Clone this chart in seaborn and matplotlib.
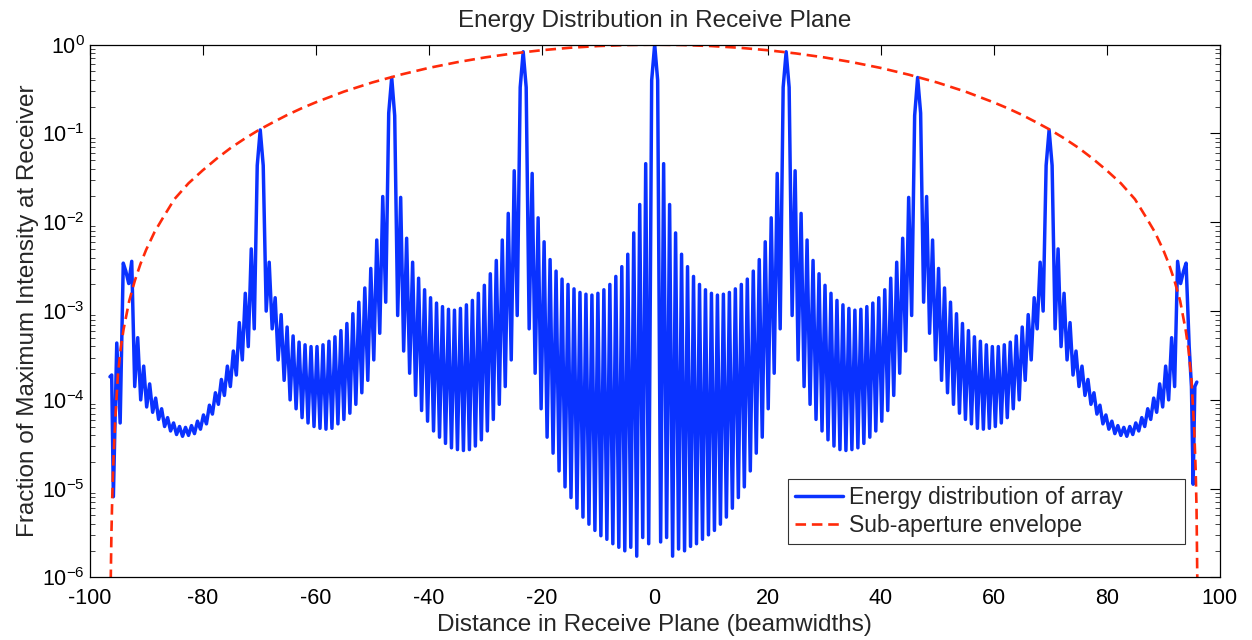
import numpy as np
import pandas as pd
import seaborn as sns
import matplotlib
matplotlib.use("Agg")
import matplotlib.pyplot as plt
from matplotlib.ticker import NullFormatter, FixedLocator

# grating lobe centres (beamwidths) and their peak levels (log10)
lobe_x = [-93.08, -69.81, -46.54, -23.27, 0.0, 23.27, 46.54, 69.81, 93.08]
lobe_exp = [-2.69, -0.96, -0.37, -0.08, 0.0, -0.08, -0.37, -0.96, -2.69]

# sidelobe crests (log10) between neighbouring lobes, left to right
crest_g1 = [-2.44, -3.30, -3.62, -3.82, -3.98, -4.10, -4.20, -4.26, -4.30, -4.31, -4.29,
            -4.24, -4.17, -4.06, -3.92, -3.77, -3.62, -3.45, -3.13, -2.80, -2.30, -1.36]
crest_g2 = [-1.36, -2.45, -2.85, -3.04, -3.18, -3.28, -3.35, -3.38, -3.40, -3.40, -3.38,
            -3.34, -3.29, -3.22, -3.14, -3.03, -2.90, -2.74, -2.52, -2.20, -1.71, -0.77]
crest_g3 = [-0.80, -1.72, -2.18, -2.45, -2.63, -2.76, -2.85, -2.91, -2.95, -2.98, -2.99,
            -2.97, -2.93, -2.88, -2.80, -2.71, -2.58, -2.43, -2.20, -1.90, -1.42, -0.48]
crest_g4 = [-0.48, -1.45, -1.95, -2.22, -2.42, -2.55, -2.64, -2.70, -2.75, -2.79, -2.81,
            -2.82, -2.80, -2.76, -2.70, -2.61, -2.50, -2.36, -2.12, -1.80, -1.34, -0.40]
crest_g5 = [-0.40, -1.34, -1.80, -2.12, -2.36, -2.50, -2.61, -2.70, -2.76, -2.80, -2.82,
            -2.81, -2.79, -2.75, -2.70, -2.64, -2.55, -2.42, -2.22, -1.95, -1.45, -0.48]
crest_g6 = [-0.48, -1.42, -1.90, -2.20, -2.43, -2.58, -2.71, -2.80, -2.88, -2.93, -2.97,
            -2.99, -2.98, -2.95, -2.91, -2.85, -2.76, -2.63, -2.45, -2.18, -1.72, -0.80]
crest_g7 = [-0.77, -1.71, -2.20, -2.52, -2.74, -2.90, -3.03, -3.14, -3.22, -3.29, -3.34,
            -3.38, -3.40, -3.40, -3.38, -3.35, -3.28, -3.18, -3.04, -2.85, -2.45, -1.36]
crest_g8 = [-1.36, -2.30, -2.80, -3.13, -3.45, -3.62, -3.77, -3.92, -4.06, -4.17, -4.24,
            -4.29, -4.31, -4.30, -4.26, -4.20, -4.10, -3.98, -3.82, -3.62, -3.30, -2.44]

# sampled nulls (log10) between neighbouring lobes, left to right
trough_g1 = [-3.85, -4.00, -4.08, -4.14, -4.22, -4.30, -4.35, -4.39, -4.41, -4.40, -4.38,
             -4.33, -4.27, -4.16, -4.05, -3.95, -3.85, -3.72, -3.55, -3.40, -3.20]
trough_g2 = [-3.00, -3.20, -3.55, -3.78, -4.00, -4.10, -4.20, -4.26, -4.30, -4.32, -4.33,
             -4.32, -4.27, -4.22, -4.15, -4.05, -3.92, -3.78, -3.55, -3.25, -2.90]
trough_g3 = [-3.05, -3.45, -3.70, -3.95, -4.12, -4.24, -4.35, -4.42, -4.49, -4.54, -4.56,
             -4.57, -4.56, -4.52, -4.45, -4.35, -4.22, -4.05, -3.85, -3.55, -3.05]
trough_g4 = [-3.20, -3.70, -4.10, -4.42, -4.60, -4.80, -4.98, -5.10, -5.22, -5.32, -5.40,
             -5.47, -5.53, -5.57, -5.62, -5.66, -5.70, -5.66, -5.76, -5.55, -5.62]
trough_g5 = [-5.60, -5.55, -5.76, -5.68, -5.70, -5.65, -5.62, -5.57, -5.52, -5.47, -5.40,
             -5.32, -5.22, -5.10, -4.98, -4.80, -4.60, -4.42, -4.10, -3.70, -3.20]
trough_g6 = [-3.05, -3.55, -3.85, -4.05, -4.22, -4.35, -4.45, -4.52, -4.56, -4.57, -4.56,
             -4.54, -4.49, -4.42, -4.35, -4.24, -4.12, -3.95, -3.70, -3.45, -3.05]
trough_g7 = [-2.90, -3.25, -3.55, -3.78, -3.92, -4.05, -4.15, -4.22, -4.27, -4.32, -4.33,
             -4.32, -4.30, -4.26, -4.20, -4.10, -4.00, -3.78, -3.55, -3.20, -3.00]
trough_g8 = [-3.20, -3.40, -3.55, -3.72, -3.85, -3.95, -4.05, -4.16, -4.27, -4.33, -4.38,
             -4.40, -4.41, -4.39, -4.35, -4.30, -4.22, -4.14, -4.08, -4.00, -3.85]

# outer ends of the array pattern
edge_left_x = [-96.4, -96.1, -95.8, -95.2, -94.6, -94.05, -93.6]
edge_left_exp = [-3.74, -3.72, -5.09, -3.36, -4.26, -2.46, -2.55]
edge_right_x = [93.6, 94.05, 94.6, 95.0, 95.3, 95.6, 95.95]
edge_right_exp = [-2.55, -2.46, -3.40, -3.85, -4.95, -3.85, -3.80]

# sub-aperture envelope
env_x = [-96.35, -96.15, -96.0, -95.8, -95.5, -95.0, -94.5, -94.0, -93.0, -92.0, -91.0,
         -90.0, -88.5, -87.0, -85.0, -82.5, -80.0, -77.5, -75.0, -72.5, -70.0, -67.5,
         -65.0, -62.5, -60.0, -55.0, -50.0, -45.0, -40.0, -35.0, -30.0, -25.0, -20.0,
         -15.0, -10.0, -5.0, 0.0, 5.0, 10.0, 15.0, 20.0, 25.0, 30.0, 35.0, 40.0, 45.0,
         50.0, 55.0, 60.0, 62.5, 65.0, 67.5, 70.0, 72.5, 75.0, 77.5, 80.0, 82.5, 85.0,
         87.0, 88.5, 90.0, 91.0, 92.0, 93.0, 94.0, 94.5, 95.0, 95.5, 95.75, 95.9, 96.1]
env_y = [4e-7, 3e-6, 8e-6, 2e-5, 5.5e-5, 1.9e-4, 3.8e-4, 6.2e-4, 1.3e-3, 2.2e-3, 3.4e-3,
         4.9e-3, 7.8e-3, 0.0113, 0.0182, 0.0275, 0.0384, 0.0522, 0.069, 0.088, 0.110, 0.134,
         0.162, 0.192, 0.224, 0.296, 0.375, 0.459, 0.547, 0.634, 0.719, 0.797, 0.866,
         0.923, 0.965, 0.991, 1.0, 0.991, 0.965, 0.923, 0.866, 0.797, 0.719, 0.634, 0.547, 0.459,
         0.375, 0.296, 0.224, 0.192, 0.162, 0.134, 0.110, 0.088, 0.069, 0.0522, 0.0384, 0.0275, 0.0182,
         0.0113, 7.8e-3, 4.9e-3, 3.4e-3, 2.2e-3, 1.3e-3, 6.0e-4, 3.6e-4, 1.7e-4, 4.5e-5, 1.6e-5, 6e-6, 4e-7]

x_ticks = [-100, -80, -60, -40, -20, 0, 20, 40, 60, 80, 100]
y_ticks = [1e-6, 1e-5, 1e-4, 1e-3, 1e-2, 1e-1, 1e0]

crests = [crest_g1, crest_g2, crest_g3, crest_g4, crest_g5, crest_g6, crest_g7, crest_g8]
troughs = [trough_g1, trough_g2, trough_g3, trough_g4, trough_g5, trough_g6, trough_g7, trough_g8]

# stitch the array pattern together, alternating crest / null between lobes
xs = list(edge_left_x)
es = list(edge_left_exp)
for i in range(8):
    xs.append(lobe_x[i])
    es.append(lobe_exp[i])
    inner = np.linspace(lobe_x[i], lobe_x[i + 1], 45)[1:-1]
    vals = np.empty(43)
    vals[0::2] = crests[i]
    vals[1::2] = troughs[i]
    xs.extend(inner)
    es.extend(vals)
xs.append(lobe_x[-1])
es.append(lobe_exp[-1])
xs.extend(edge_right_x)
es.extend(edge_right_exp)

array_df = pd.DataFrame({"x": xs, "y": 10.0 ** np.array(es)})
env_df = pd.DataFrame({"x": env_x, "y": env_y})

sns.set_style("white")
plt.rcParams["font.family"] = ["Liberation Sans", "DejaVu Sans"]
plt.rcParams["axes.unicode_minus"] = False

fig = plt.figure(figsize=(12.52, 6.4), dpi=100)
ax = fig.add_axes([0.0716, 0.0977, 0.9026, 0.8325])

sns.lineplot(data=array_df, x="x", y="y", ax=ax, color="#0a32ff", linewidth=2.5,
             sort=False, estimator=None, label="Energy distribution of array")
sns.lineplot(data=env_df, x="x", y="y", ax=ax, color="#ff2a0a", linewidth=1.9,
             sort=False, estimator=None, linestyle=(0, (4, 2.2)),
             label="Sub-aperture envelope")

ax.set_yscale("log")
ax.set_xlim(-100, 100)
ax.set_ylim(1e-6, 1)
ax.xaxis.set_major_locator(FixedLocator(x_ticks))
ax.yaxis.set_major_locator(FixedLocator(y_ticks))
minor = [m * t for t in y_ticks[:-1] for m in range(2, 10)]
ax.yaxis.set_minor_locator(FixedLocator(minor))
ax.yaxis.set_minor_formatter(NullFormatter())
ax.tick_params(axis="both", which="major", direction="in", length=7, width=0.8,
               top=True, right=True, labelsize=15.5, colors="black")
ax.tick_params(axis="x", which="major", pad=7.5)
ax.tick_params(axis="y", which="minor", direction="in", length=3.5, width=0.6,
               left=True, right=True)
for s in ax.spines.values():
    s.set_color("black")
    s.set_linewidth(0.9)

ax.set_title("Energy Distribution in Receive Plane", fontsize=17.5, pad=12.5)
ax.set_xlabel("Distance in Receive Plane (beamwidths)", fontsize=17.5, labelpad=4)
ax.set_ylabel("Fraction of Maximum Intensity at Receiver", fontsize=17.5, labelpad=2)

leg = ax.legend(loc="center", bbox_to_anchor=(0.618, 0.061, 0.351, 0.126), mode="expand",
                borderaxespad=0, fontsize=16.5, frameon=True, fancybox=False,
                edgecolor="black", handlelength=2.1, handletextpad=0.25,
                labelspacing=0.2, borderpad=0.3)
leg.get_frame().set_linewidth(0.8)

fig.savefig("out.png", dpi=100)
